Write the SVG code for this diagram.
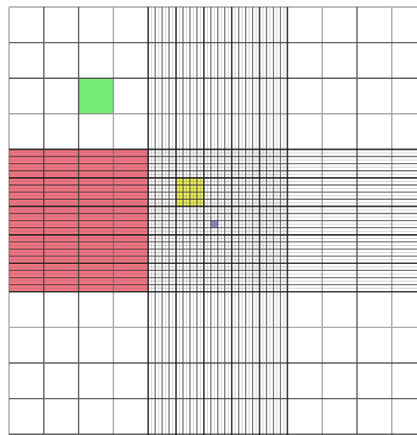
<svg xmlns="http://www.w3.org/2000/svg" width="417" height="435" viewBox="0 0 417 435">
<style>
.bg{fill:#ffffff}
.coarse{stroke:#3a3a3a;stroke-width:1.4;fill:none;stroke-opacity:0.8}
.coarse-l{stroke:#555;stroke-width:1.4;fill:none;stroke-opacity:0.5}
.dark{stroke:#1a1a1a;stroke-width:1.6;fill:none;stroke-opacity:0.85}
.mid{stroke:#333;stroke-width:1.3;fill:none;stroke-opacity:0.65}
.faint{stroke:#666;stroke-width:1;fill:none;stroke-opacity:0.28}
</style>
<rect class="bg" x="0" y="0" width="417" height="435"/>
<g id="fills">
<rect id="red-region" x="9" y="149.4" width="139.2" height="142.4" fill="#f27483"/>
<rect id="green-cell" x="78.6" y="78.2" width="34.8" height="35.6" fill="#76ee76"/>
<rect id="yellow-cell" x="176.04" y="177.88" width="27.84" height="28.48" fill="#eeee5a"/>
<rect id="blue-cell" x="210.84" y="220.6" width="6.96" height="7.12" fill="#8a8ad0"/>
</g>
<g id="grid">
<path class="faint" d="M151.68 7V435M158.64 7V435M165.6 7V435M172.56 7V435M179.52 7V435M186.48 7V435M193.44 7V435M200.4 7V435M207.36 7V435M214.32 7V435M221.28 7V435M228.24 7V435M235.2 7V435M242.16 7V435M249.12 7V435M256.08 7V435M263.04 7V435M270 7V435M276.96 7V435M283.92 7V435"/>
<path class="faint" d="M9 152.96H417M9 160.08H417M9 167.2H417M9 174.32H417M9 181.44H417M9 188.56H417M9 195.68H417M9 202.8H417M9 209.92H417M9 217.04H417M9 224.16H417M9 231.28H417M9 238.4H417M9 245.52H417M9 252.64H417M9 259.76H417M9 266.88H417M9 274H417M9 281.12H417M9 288.24H417"/>
<path class="mid" d="M155.16 7V435M162.12 7V435M169.08 7V435M183 7V435M189.96 7V435M196.92 7V435M210.84 7V435M217.8 7V435M224.76 7V435M238.68 7V435M245.64 7V435M252.6 7V435M266.52 7V435M273.48 7V435M280.44 7V435"/>
<path class="mid" d="M9 156.52H417M9 163.64H417M9 170.76H417M9 185H417M9 192.12H417M9 199.24H417M9 213.48H417M9 220.6H417M9 227.72H417M9 241.96H417M9 249.08H417M9 256.2H417M9 270.44H417M9 277.56H417M9 284.68H417"/>
<path class="coarse-l" d="M9 7V435M113.4 7V435M322.2 7V435M391.8 7V435M9 7H417M9 113.8H417M9 327.4H417"/>
<path class="coarse" d="M43.8 7V435M78.6 7V435M357 7V435M9 42.6H417M9 78.2H417M9 363H417M9 398.6H417M9 434.2H417"/>
<path class="dark" d="M148.2 7V435M176.04 7V435M203.88 7V435M231.72 7V435M259.56 7V435M287.4 7V435"/>
<path class="dark" d="M9 149.4H417M9 177.88H417M9 206.36H417M9 234.84H417M9 263.32H417M9 291.8H417"/>
</g>
</svg>
